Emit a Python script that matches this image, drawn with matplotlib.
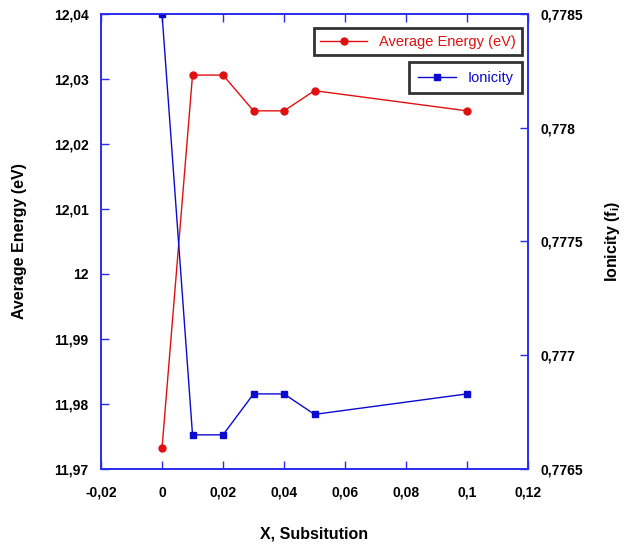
import matplotlib.pyplot as plt
from matplotlib.ticker import FuncFormatter, MultipleLocator

plt.rcParams['font.family'] = ['Liberation Sans', 'DejaVu Sans']
plt.rcParams['mathtext.fontset'] = 'custom'
plt.rcParams['mathtext.rm'] = 'Liberation Sans:bold'
plt.rcParams['mathtext.it'] = 'Liberation Sans:bold'
plt.rcParams['mathtext.bf'] = 'Liberation Sans:bold'

# Data
x_sub = [0, 0.01, 0.02, 0.03, 0.04, 0.05, 0.1]
avg_energy = [11.9732, 12.0306, 12.0306, 12.0251, 12.0251, 12.0282, 12.0251]
ionicity = [0.7785, 0.77665, 0.77665, 0.77683, 0.77683, 0.77674, 0.77683]

spine_col = '#2b2bf0'


def comma(v, pos):
    return ('%g' % round(v, 6)).replace('.', ',')


fig = plt.figure(figsize=(6.24, 5.44), dpi=100)
ax = fig.add_axes([0.1619, 0.1379, 0.6843, 0.8364])
ax2 = ax.twinx()

l1, = ax.plot(x_sub, avg_energy, color='#e01010', marker='o', markersize=5,
              linewidth=1, label='Average Energy (eV)')
l2, = ax2.plot(x_sub, ionicity, color='#0a0ad0', marker='s', markersize=5,
               linewidth=1, label='Ionicity')

ax.set_xlim(-0.02, 0.12)
ax.set_ylim(11.97, 12.04)
ax2.set_ylim(0.7765, 0.7785)
ax.xaxis.set_major_locator(MultipleLocator(0.02))
ax.yaxis.set_major_locator(MultipleLocator(0.01))
ax2.yaxis.set_major_locator(MultipleLocator(0.0005))
for a in (ax.xaxis, ax.yaxis, ax2.yaxis):
    a.set_major_formatter(FuncFormatter(comma))

for a in (ax, ax2):
    for s in a.spines.values():
        s.set_color(spine_col)
        s.set_linewidth(1.2)
ax.tick_params(axis='x', direction='in', top=True, length=6, width=1,
               color=spine_col, pad=12, labelsize=10)
ax.tick_params(axis='y', direction='in', length=6, width=1,
               color=spine_col, pad=9, labelsize=10)
ax2.tick_params(axis='y', direction='in', length=6, width=1,
                color=spine_col, pad=9, labelsize=10)
for lab in ax.get_xticklabels() + ax.get_yticklabels() + ax2.get_yticklabels():
    lab.set_fontweight('bold')

ax.set_xlabel('X, Subsitution', fontsize=11.5, fontweight='bold', labelpad=19)
ax.set_ylabel('Average Energy (eV)', fontsize=11.5, fontweight='bold', labelpad=19)
ax2.set_ylabel('Ionicity (f$_i$)', fontsize=11.5, fontweight='bold', labelpad=14)

leg1 = ax.legend(handles=[l1], loc='upper right', bbox_to_anchor=(0.986, 0.969),
                 borderaxespad=0, fancybox=False, edgecolor='black',
                 fontsize=10.5, handlelength=3.2, borderpad=0.45,
                 labelcolor='#e01010')
leg1.get_frame().set_linewidth(2)
leg2 = ax2.legend(handles=[l2], loc='upper right', bbox_to_anchor=(0.986, 0.8945),
                  borderaxespad=0, fancybox=False, edgecolor='black',
                  fontsize=10.5, handlelength=2.6, borderpad=0.6,
                  labelcolor='#0a0ad0')
leg2.get_frame().set_linewidth(2)

fig.savefig('out.png', dpi=100)
